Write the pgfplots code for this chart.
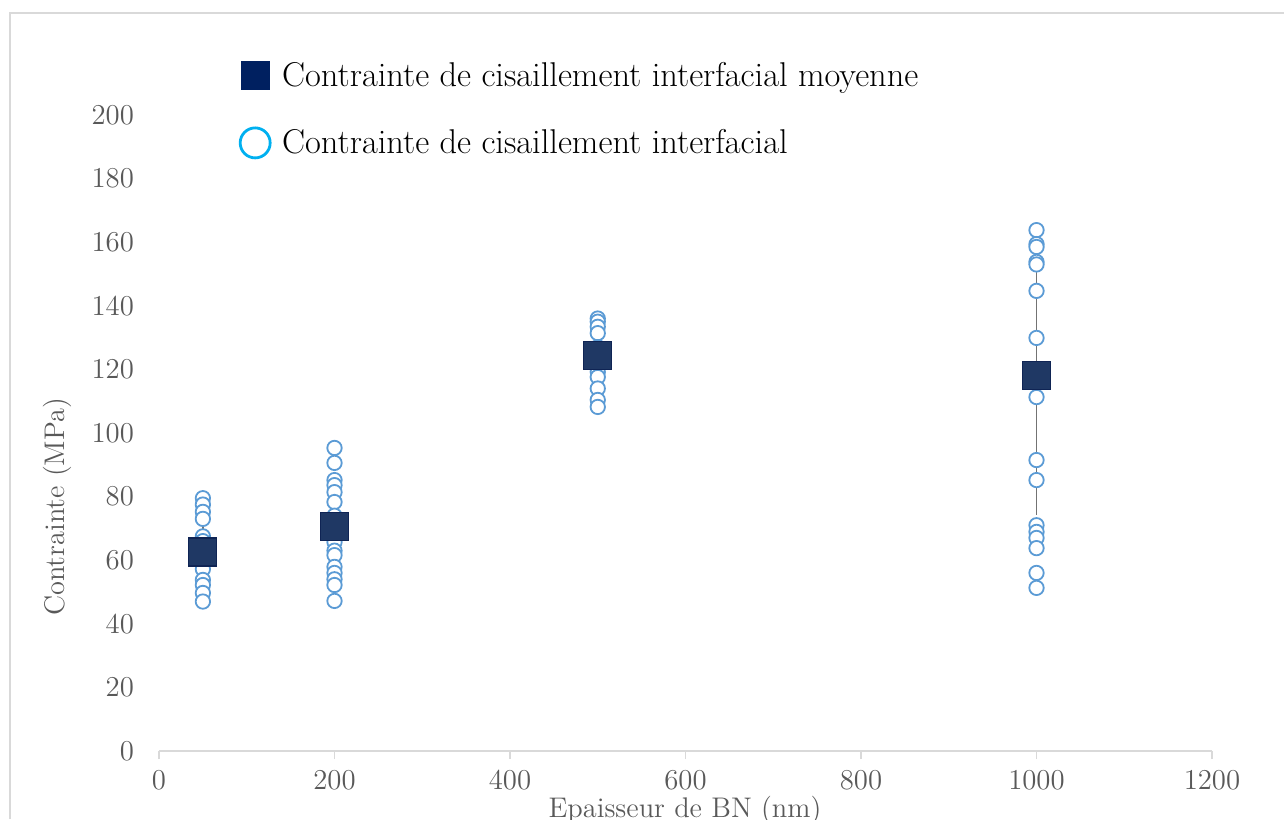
\documentclass[border=0pt]{standalone}
\usepackage{pgfplots}
\pgfplotsset{compat=1.18}
\definecolor{circblue}{HTML}{5B9BD5}
\definecolor{navyfill}{HTML}{1F3864}
\definecolor{navyedge}{HTML}{0F2454}
\definecolor{legnavy}{HTML}{002060}
\definecolor{legcyan}{HTML}{00B0F0}
\definecolor{txtgray}{HTML}{595959}
\definecolor{linegray}{HTML}{D9D9D9}

\begin{document}
\begin{tikzpicture}
% page = 1284x819 px at 0.5pt per px
\useasboundingbox (0,0) rectangle (642pt,-409.5pt);
\clip (0,0) rectangle (642pt,-409.5pt);
\draw[linegray, line width=0.8pt] (5pt,-409.5pt) -- (5pt,-6.5pt) -- (642pt,-6.5pt);

\begin{axis}[
    at={(79.5pt,-375.5pt)}, anchor=south west,
    scale only axis,
    width=526.5pt, height=318pt,
    xmin=0, xmax=1200, ymin=0, ymax=200,
    xtick={0,200,...,1200}, ytick={0,20,...,200},
    axis x line*=bottom, axis y line*=left,
    x axis line style={linegray, line width=0.8pt, -},
    y axis line style={draw=none},
    tick align=outside,
    major tick length=4pt,
    xtick style={linegray, line width=0.8pt},
    ytick style={draw=none},
    /pgf/number format/1000 sep={},
    tick label style={font=\fontsize{13.5}{16}\selectfont, text=txtgray},
    x tick label style={yshift=-2.5pt},
    y tick label style={anchor=east, xshift=-5pt},
    label style={font=\fontsize{14.2}{17}\selectfont, text=txtgray},
    xlabel={Epaisseur de BN (nm)},
    ylabel={Contrainte (MPa)},
    xlabel style={at={(axis description cs:0.4995,-0.094)}, anchor=center},
    ylabel style={at={(axis description cs:-0.0965,0.384)}, anchor=center},
    clip=false,
    legend style={draw=none, fill=none, at={(axis description cs:0.0767,1.09)}, anchor=north west,
      font=\fontsize{17.2}{20}\selectfont, row sep=16pt, inner sep=0pt},
    legend cell align=left,
]
\addlegendimage{only marks, mark=square*, mark size=7pt, mark options={fill=legnavy, draw=legnavy}}
\addlegendentry{\hspace{4pt}Contrainte de cisaillement interfacial moyenne}
\addlegendimage{only marks, mark=o, mark size=7.5pt, mark options={draw=legcyan, line width=1.4pt}}
\addlegendentry{\hspace{4pt}Contrainte de cisaillement interfacial}

% error bars of the mean
\addplot[forget plot, only marks, mark=none,
    error bars/.cd, y dir=both, y explicit,
    error bar style={gray!90!black, line width=0.9pt},
    error mark options={gray!90!black, line width=0.9pt, mark size=6pt}]
  table[x=x, y=y, y error=e] {
x    y     e
50   62.6  7.2
200  70.5  3.5
500  124.3 3.0
1000 118.0 40.0
};

% individual values
\addplot[forget plot, only marks, mark=*, mark size=3.6pt,
    mark options={draw=circblue, fill=white, line width=0.9pt}]
  table {
x y
50 79.5
50 77.5
50 75.2
50 73.0
50 67.5
50 66.0
50 64.0
50 60.0
50 57.2
50 53.8
50 52.2
50 49.7
50 47.0
200 95.3
200 90.6
200 85.2
200 83.6
200 81.4
200 78.3
200 74.0
200 68.0
200 65.7
200 63.0
200 61.6
200 57.9
200 56.0
200 54.0
200 52.2
200 47.2
500 136.0
500 135.0
500 133.4
500 131.4
500 127.0
500 122.0
500 119.2
500 117.6
500 114.0
500 110.4
500 108.2
1000 163.8
1000 159.4
1000 158.5
1000 153.8
1000 153.0
1000 144.7
1000 129.9
1000 120.0
1000 111.3
1000 91.5
1000 85.2
1000 71.0
1000 68.9
1000 67.0
1000 63.8
1000 56.0
1000 51.3
};

% mean values
\addplot[forget plot, only marks, mark=square*, mark size=7pt,
    mark options={fill=navyfill, draw=navyedge, line width=0.6pt}]
  table {
x y
50 62.6
200 70.5
500 124.3
1000 118.0
};
\end{axis}
\end{tikzpicture}
\end{document}
